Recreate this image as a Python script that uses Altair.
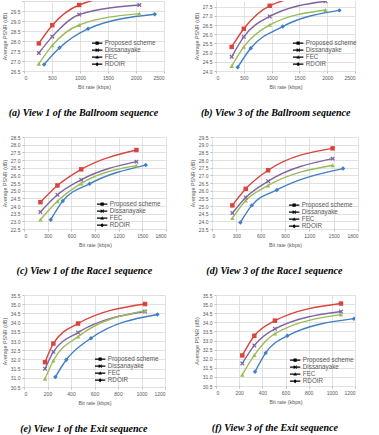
import altair as alt
import pandas as pd

SERIES = ["Proposed scheme", "Dissanayake", "FEC", "RDOIR"]
COLORS = ["#D9443C", "#8064A2", "#9BBB59", "#3F7FC4"]

# X marker drawn as a filled polygon so it takes the series fill colour
X_MARK = ("M-1,-0.6L-0.6,-1L0,-0.4L0.6,-1L1,-0.6L0.4,0L1,0.6L0.6,1"
          "L0,0.4L-0.6,1L-1,0.6L-0.4,0Z")
MARKERS = ["square", X_MARK, "triangle-up", "diamond"]

# legend glyphs (filled): a thin bar for the line with the marker on top
BAR = "M-2.6,-0.32H2.6V0.32H-2.6Z"
LEGEND_GLYPHS = [
    BAR + "M-0.8,-0.8H0.8V0.8H-0.8Z",
    BAR + ("M-0.9,-0.55L-0.55,-0.9L0,-0.35L0.55,-0.9L0.9,-0.55L0.35,0"
           "L0.9,0.55L0.55,0.9L0,0.35L-0.55,0.9L-0.9,0.55L-0.35,0Z"),
    BAR + "M0,-0.95L0.9,0.7H-0.9Z",
    BAR + "M0,-1L1,0L0,1L-1,0Z",
]

# ---- (a) View 1 of Ballroom: bit rate (kbps) / average PSNR (dB)
ballroom_v1_rate = {
    "Proposed scheme": [265, 505, 985, 2060],
    "Dissanayake": [265, 505, 985, 2060],
    "FEC": [265, 505, 985, 2060],
    "RDOIR": [359, 635, 1144, 2335],
}
ballroom_v1_psnr = {
    "Proposed scheme": [27.88, 28.79, 29.80, 30.40],
    "Dissanayake": [27.40, 28.22, 29.32, 29.80],
    "FEC": [26.86, 27.78, 28.80, 29.37],
    "RDOIR": [26.83, 27.66, 28.61, 29.34],
}

# ---- (b) View 3 of Ballroom
ballroom_v3_rate = {
    "Proposed scheme": [282, 500, 966, 1968],
    "Dissanayake": [282, 500, 966, 1968],
    "FEC": [282, 500, 966, 1968],
    "RDOIR": [390, 624, 1200, 2220],
}
ballroom_v3_psnr = {
    "Proposed scheme": [25.31, 26.30, 27.55, 28.25],
    "Dissanayake": [24.77, 25.86, 26.97, 27.80],
    "FEC": [24.27, 25.31, 26.51, 27.32],
    "RDOIR": [24.20, 25.24, 26.42, 27.30],
}

# ---- (c) View 1 of Race1
race1_v1_rate = {
    "Proposed scheme": [208, 424, 725, 1425],
    "Dissanayake": [208, 424, 725, 1425],
    "FEC": [208, 424, 725, 1425],
    "RDOIR": [339, 492, 831, 1543],
}
race1_v1_psnr = {
    "Proposed scheme": [24.25, 25.34, 26.39, 27.65],
    "Dissanayake": [23.61, 24.73, 25.71, 26.89],
    "FEC": [23.11, 24.31, 25.47, 26.63],
    "RDOIR": [23.11, 24.33, 25.45, 26.67],
}

# ---- (d) View 3 of Race1
race1_v3_rate = {
    "Proposed scheme": [251, 416, 692, 1487],
    "Dissanayake": [251, 416, 692, 1487],
    "FEC": [251, 416, 692, 1487],
    "RDOIR": [350, 490, 799, 1615],
}
race1_v3_psnr = {
    "Proposed scheme": [25.04, 26.12, 27.33, 28.76],
    "Dissanayake": [24.54, 25.56, 26.62, 28.09],
    "FEC": [24.21, 25.36, 26.34, 27.66],
    "RDOIR": [23.93, 25.04, 26.05, 27.44],
}

# ---- (e) View 1 of Exit
exit_v1_rate = {
    "Proposed scheme": [179, 250, 460, 1030],
    "Dissanayake": [179, 250, 460, 1030],
    "FEC": [179, 250, 460, 1030],
    "RDOIR": [267, 360, 570, 1135],
}
exit_v1_psnr = {
    "Proposed scheme": [31.85, 32.86, 33.95, 35.01],
    "Dissanayake": [31.49, 32.41, 33.46, 34.60],
    "FEC": [30.95, 31.94, 33.24, 34.65],
    "RDOIR": [31.04, 31.98, 33.15, 34.44],
}

# ---- (f) View 3 of Exit
exit_v3_rate = {
    "Proposed scheme": [227, 331, 509, 1079],
    "Dissanayake": [227, 331, 509, 1079],
    "FEC": [227, 331, 509, 1079],
    "RDOIR": [337, 429, 616, 1191],
}
exit_v3_psnr = {
    "Proposed scheme": [32.18, 33.26, 34.09, 35.03],
    "Dissanayake": [31.74, 32.73, 33.64, 34.59],
    "FEC": [31.12, 32.20, 33.38, 34.42],
    "RDOIR": [31.28, 32.32, 33.26, 34.20],
}

LABEL_FONT = "Liberation Sans"
CAPTION_FONT = "Liberation Serif"
GRID = "#D9D9D9"
TEXT = "#595959"


def frame(rates, psnr):
    rows = []
    for s in SERIES:
        for r, p in zip(rates[s], psnr[s]):
            rows.append({"series": s, "rate": r, "psnr": p})
    return pd.DataFrame(rows)


def panel(rates, psnr, caption, xmax, xstep, ymin, ymax, yticks,
          width, height, legend_x, legend_y, hide_top=None):
    df = frame(rates, psnr)
    label_expr = "datum.label"
    if hide_top is not None:
        label_expr = f"datum.value >= {hide_top} ? '' : datum.label"

    x = alt.X("rate:Q",
              scale=alt.Scale(domain=[0, xmax], nice=False),
              axis=alt.Axis(values=list(range(0, xmax + 1, xstep)),
                            title="Bit rate (kbps)", format="d"))
    y = alt.Y("psnr:Q",
              scale=alt.Scale(domain=[ymin, ymax], nice=False, zero=False),
              axis=alt.Axis(values=yticks, title="Average PSNR (dB)",
                            labelExpr=label_expr))
    color = alt.Color("series:N",
                      scale=alt.Scale(domain=SERIES, range=COLORS),
                      legend=None)
    base = alt.Chart(df).encode(x=x, y=y)

    lines = base.mark_line(interpolate="monotone", strokeWidth=1.4,
                           clip=True).encode(color=color)
    points = base.mark_point(filled=True, opacity=1, size=20,
                             clip=True).encode(
        color=color,
        shape=alt.Shape("series:N",
                        scale=alt.Scale(domain=SERIES, range=MARKERS),
                        legend=None),
    )

    # legend-only layer: no rows, explicit scale domains
    leg = alt.Legend(title=None, orient="none", legendX=legend_x,
                     legendY=legend_y, symbolSize=16, rowPadding=0,
                     symbolStrokeWidth=0.3, labelOffset=4.5)
    key = alt.Chart(df).transform_filter("false").mark_point(
        filled=True, opacity=1, size=16, strokeWidth=0.3).encode(
        fill=alt.Fill("series:N",
                      scale=alt.Scale(domain=SERIES, range=COLORS),
                      legend=leg),
        stroke=alt.Stroke("series:N",
                          scale=alt.Scale(domain=SERIES, range=COLORS),
                          legend=leg),
        shape=alt.Shape("series:N",
                        scale=alt.Scale(domain=SERIES, range=LEGEND_GLYPHS),
                        legend=leg),
    )

    return alt.layer(lines, points, key).resolve_scale(
        shape="independent"
    ).properties(
        width=width, height=height,
        title=alt.Title(caption, orient="bottom", anchor="middle",
                        frame="bounds", font=CAPTION_FONT, fontSize=10,
                        fontStyle="italic", fontWeight="bold", color="black",
                        offset=19),
    )


def halves(lo, hi):
    n = int(round((hi - lo) / 0.5))
    return [round(lo + 0.5 * i, 1) for i in range(n + 1)]


pa = panel(ballroom_v1_rate, ballroom_v1_psnr,
           "(a)  View 1 of the Ballroom sequence",
           2500, 500, 26.5, 30.0, halves(26.5, 30.0), 140, 70, 70, 39,
           hide_top=30)
pb = panel(ballroom_v3_rate, ballroom_v3_psnr,
           "(b)  View 3 of the Ballroom sequence",
           2500, 500, 24.0, 27.81, halves(24.0, 27.5), 139, 70, 79, 39)
pc = panel(race1_v1_rate, race1_v1_psnr,
           "(c)  View 1 of the Race1 sequence",
           1800, 300, 22.5, 28.5, halves(22.5, 28.5), 142, 92, 75, 64)
pd_ = panel(race1_v3_rate, race1_v3_psnr,
            "(d)  View 3 of the Race1 sequence",
            1800, 300, 23.5, 29.5, halves(23.5, 29.5), 146, 92, 79, 65)
pe = panel(exit_v1_rate, exit_v1_psnr,
           "(e)  View 1 of the Exit sequence",
           1200, 200, 30.5, 35.5, halves(30.5, 35.5), 141, 92, 73, 61)
pf = panel(exit_v3_rate, exit_v3_psnr,
           "(f)  View 3 of the Exit sequence",
           1200, 200, 30.5, 35.5, halves(30.5, 35.5), 139, 91, 76, 62)

row1 = alt.hconcat(pa, pb, spacing=52, bounds="flush")
row2 = alt.hconcat(pc, pd_, spacing=46, bounds="flush")
row3 = alt.hconcat(pe, pf, spacing=51, bounds="flush")

chart = alt.vconcat(row1, row2, row3, spacing=16).properties(
    padding={"left": 2, "top": 0, "right": 0, "bottom": 0},
    background="white",
).configure_view(
    stroke=None,
).configure_axis(
    labelFont=LABEL_FONT, labelFontSize=5, labelColor=TEXT,
    titleFont=LABEL_FONT, titleFontSize=5.3, titleFontWeight="normal",
    titleColor=TEXT,
    grid=True, gridColor=GRID, gridWidth=0.8,
    domain=False, tickColor="#BFBFBF", tickSize=2, labelPadding=2,
).configure_axisX(
    titlePadding=4,
).configure_axisY(
    titlePadding=3,
).configure_legend(
    labelFont=LABEL_FONT, labelFontSize=6.3, labelColor=TEXT,
    symbolSize=16, labelOffset=4.5,
    rowPadding=0, padding=0,
)

chart.save("out.html", embed_options={"renderer": "svg", "actions": False})
